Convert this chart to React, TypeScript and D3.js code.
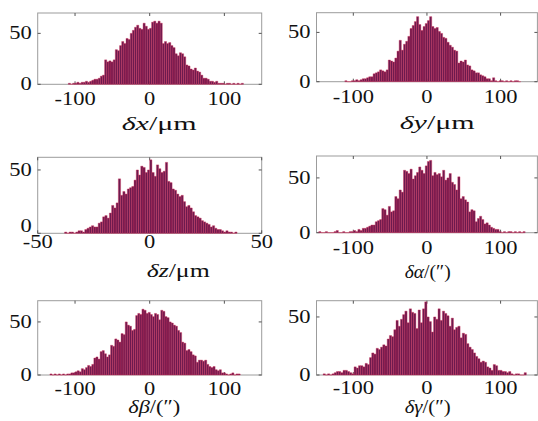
import React from "react";
import * as d3 from "d3";

// ---- histogram data (bin start, bin width, counts) ----
const dxStart = -109;
const dxWidth = 2.86;
const dxCounts = [1,0,1,1,2,1,2,2,3,2, 3,4,5,5,6,8,9,24,22,23, 22,24,34,33,38,42,40,45,44,50, 53,56,58,55,54,60,57,54,55,61, 62,60,62,60,40,42,40,41,38,36, 30,28,31,30,27,19,18,15,14,16, 13,12,9,6,6,5,3,3,2,3, 1,1,1,0,1,1,0,1,0,1, 0,1];

const dyStart = -111.5;
const dyWidth = 2.95;
const dyCounts = [1,0,0,1,1,2,1,2,3,3, 4,5,5,8,9,10,12,11,10,12, 22,21,20,24,31,42,32,38,41,46, 54,57,61,66,58,52,56,59,62,66, 56,54,55,51,49,45,44,40,37,35, 32,31,19,21,20,22,17,16,12,11, 9,9,7,6,5,3,3,1,4,1, 0,1,1,0,1,0,1,0,1,1, 0];

const dzStart = -38;
const dzWidth = 1;
const dzCounts = [1,0,1,1,0,1,2,2,1,3, 4,5,6,5,5,8,9,13,14,12, 16,22,20,24,43,30,33,31,35,36, 37,42,50,46,53,52,48,50,58,48, 45,54,51,48,49,56,41,40,35,34, 31,29,30,25,21,22,20,17,14,13, 12,10,9,8,7,5,6,4,3,3, 2,1,2,1,1,0,1];

const daStart = -146.9;
const daWidth = 2.95;
const daCounts = [1,0,0,1,0,0,0,1,2,0, 0,1,0,0,1,1,2,1,3,2, 4,4,5,6,7,7,10,11,12,22, 21,16,24,19,20,33,31,39,37,57, 56,54,58,49,52,55,60,57,54,61, 65,66,52,55,53,54,51,57,48,50, 54,46,44,39,51,31,33,30,28,19, 21,20,10,13,15,12,8,9,7,5, 4,3,3,1,0,1,0,1,1,0, 1,0,1,0,1];

const dbStart = -133.6;
const dbWidth = 2.8;
const dbCounts = [1,0,1,0,1,0,1,0,1,1, 2,2,3,4,3,6,5,7,9,8, 10,16,17,15,22,23,20,17,19,28, 27,34,33,31,39,38,50,47,46,42, 43,56,58,57,62,61,58,59,57,55, 58,57,52,61,60,55,54,50,49,47, 46,42,40,31,30,23,24,22,19,18, 12,14,14,13,14,10,8,7,8,5, 4,5,2,2,1,0,1,2,0,1, 1];

const dgStart = -141;
const dgWidth = 3;
const dgCounts = [1,0,1,0,1,2,3,3,2,4, 4,3,2,1,7,6,8,8,7,10, 9,15,19,18,23,22,24,26,25,31, 34,33,39,47,42,48,52,55,45,57, 54,53,40,56,45,57,63,50,46,37, 50,48,57,47,55,53,51,42,49,39, 41,42,32,36,35,27,24,22,19,16, 14,11,12,11,7,6,4,9,8,4, 4,3,3,2,3,1,0,1,1,0, 0,2];

// ---- axes ----
const angleTicks = [-100, 0, 100];
const zTicks = [-50, 0, 50];
const countTicks = [0, 50];

const FONT = "'Liberation Serif', 'Times New Roman', Times, serif";
const FILL = "#6c1a4f";
const EDGE = "#d63058";
const BOX = "#9c9c9c";

type PanelProps = {
  counts: number[];
  start: number;
  width: number;
  xDomain: [number, number];
  xTicks: number[];
  yMax: number;
  box: { x0: number; x1: number; y0: number; y1: number };
  tickGap: number;
  zeroShift: number;
  sym: string;
  unit: string;
  lx: number;
  ly: number;
  lw: number;
};

function Panel(p: PanelProps) {
  const { x0, x1, y0, y1 } = p.box;
  const x = d3.scaleLinear().domain(p.xDomain).range([x0, x1]);
  const y = d3.scaleLinear().domain([0, p.yMax]).range([y1, y0]);
  const bars = p.counts.map((c, i) => {
    const a = p.start + i * p.width;
    const b = a + p.width;
    return `M${x(a)},${y(0)}V${y(c)}H${x(b)}V${y(0)}Z`;
  });
  return (
    <g>
      <rect x={x0} y={y0} width={x1 - x0} height={y1 - y0} fill="white" stroke={BOX} strokeWidth={1} />
      {p.xTicks.map((t) => (
        <g key={"xt" + t}>
          <line x1={x(t)} x2={x(t)} y1={y0} y2={y0 + 3} stroke="#555" strokeWidth={1} />
          <line x1={x(t)} x2={x(t)} y1={y1} y2={y1 - 3} stroke="#555" strokeWidth={1} />
        </g>
      ))}
      {countTicks.map((t) => (
        <g key={"yt" + t}>
          <line x1={x0} x2={x0 + 3} y1={y(t)} y2={y(t)} stroke="#555" strokeWidth={1} />
          <line x1={x1} x2={x1 - 3} y1={y(t)} y2={y(t)} stroke="#555" strokeWidth={1} />
        </g>
      ))}
      {bars.map((d, i) => (
        <path key={i} d={d} fill={FILL} stroke={EDGE} strokeWidth={0.4} />
      ))}
      {p.xTicks.map((t) => (
        <text
          key={"xl" + t}
          transform={`translate(${x(t)},${y1 + p.tickGap}) scale(1.25,1)`}
          textAnchor="middle"
          fontFamily={FONT}
          fontSize={18}
          fill="#111"
        >
          {String(t)}
        </text>
      ))}
      {countTicks.map((t) => (
        <text
          key={"yl" + t}
          transform={`translate(${x0 - 6},${y(t) + 6 - (t === 0 ? p.zeroShift : 0)}) scale(1.25,1)`}
          textAnchor="end"
          fontFamily={FONT}
          fontSize={18}
          fill="#111"
        >
          {String(t)}
        </text>
      ))}
      <text
        x={p.lx}
        y={p.ly}
        fontFamily={FONT}
        fontSize={19}
        fill="#111"
        textLength={p.lw}
        lengthAdjust="spacingAndGlyphs"
      >
        <tspan fontStyle="italic">{p.sym}</tspan>
        <tspan>{p.unit}</tspan>
      </text>
    </g>
  );
}

export default function App() {
  return (
    <svg
      width={538}
      height={421}
      style={{ position: "absolute", left: 0, top: 0, background: "white" }}
    >
      <rect x={0} y={0} width={538} height={421} fill="white" />
      <Panel counts={dxCounts} start={dxStart} width={dxWidth} xDomain={[-150, 150]} xTicks={angleTicks} yMax={70}
        box={{ x0: 37.7, x1: 261.7, y0: 13, y1: 84.3 }} tickGap={21} zeroShift={0} sym="δx" unit="/μm" lx={121.7} ly={130} lw={75} />
      <Panel counts={dyCounts} start={dyStart} width={dyWidth} xDomain={[-150, 150]} xTicks={angleTicks} yMax={70}
        box={{ x0: 316.5, x1: 537.4, y0: 12.7, y1: 81.7 }} tickGap={21} zeroShift={0} sym="δy" unit="/μm" lx={399.7} ly={129} lw={75} />
      <Panel counts={dzCounts} start={dzStart} width={dzWidth} xDomain={[-50, 50]} xTicks={zTicks} yMax={60}
        box={{ x0: 37.7, x1: 261.7, y0: 157.3, y1: 233.3 }} tickGap={15} zeroShift={7} sym="δz" unit="/μm" lx={146.7} ly={277} lw={63} />
      <Panel counts={daCounts} start={daStart} width={daWidth} xDomain={[-150, 150]} xTicks={angleTicks} yMax={70}
        box={{ x0: 316.5, x1: 537.4, y0: 156, y1: 232.7 }} tickGap={21} zeroShift={0} sym="δα" unit="/(″)" lx={404.7} ly={278} lw={46} />
      <Panel counts={dbCounts} start={dbStart} width={dbWidth} xDomain={[-150, 150]} xTicks={angleTicks} yMax={70}
        box={{ x0: 37.7, x1: 261.7, y0: 300.7, y1: 375 }} tickGap={20} zeroShift={0} sym="δβ" unit="/(″)" lx={128.3} ly={413} lw={52} />
      <Panel counts={dgCounts} start={dgStart} width={dgWidth} xDomain={[-150, 150]} xTicks={angleTicks} yMax={64}
        box={{ x0: 316.5, x1: 537.4, y0: 300.7, y1: 375 }} tickGap={19} zeroShift={0} sym="δγ" unit="/(″)" lx={404.7} ly={413} lw={46} />
    </svg>
  );
}
